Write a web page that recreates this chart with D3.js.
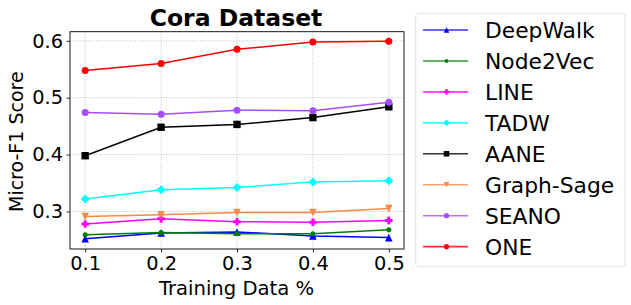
<!DOCTYPE html>
<html><head><meta charset="utf-8">
<script src="https://cdn.jsdelivr.net/npm/d3@7"></script>
<style>body{margin:0;background:#fff}svg{display:block}text{font-family:"DejaVu Sans",sans-serif}</style>
</head><body><svg id="c" width="631" height="305"></svg>
<script>
const xValues = [0.1, 0.2, 0.3, 0.4, 0.5];
const seriesNames = ["DeepWalk","Node2Vec","LINE","TADW","AANE","Graph-Sage","SEANO","ONE"];
const deepWalk  = [0.252, 0.262, 0.264, 0.257, 0.254];
const node2vec  = [0.259, 0.263, 0.261, 0.261, 0.268];
const line      = [0.278, 0.287, 0.282, 0.281, 0.284];
const tadw      = [0.322, 0.338, 0.342, 0.352, 0.354];
const aane      = [0.398, 0.448, 0.453, 0.465, 0.484];
const graphSage = [0.291, 0.294, 0.298, 0.298, 0.305];
const seano     = [0.474, 0.471, 0.478, 0.477, 0.492];
const one       = [0.548, 0.560, 0.585, 0.598, 0.599];
const yTicks = [0.3, 0.4, 0.5, 0.6];
const xTicks = [0.1, 0.2, 0.3, 0.4, 0.5];
const colors = ["#0000ff","#008000","#ff00ff","#00ffff","#000000","#f58a4b","#a64dff","#ff0000"];
const markers = ["triUp","point","plus","diamond","square","triDown","circle","circle"];
const values = [deepWalk,node2vec,line,tadw,aane,graphSage,seano,one];

const svg = d3.select("#c");
const L=70,R=404,T=31.7,B=249;
const x = d3.scaleLinear().domain([0.08,0.52]).range([L,R]);
const y = d3.scaleLinear().domain([0.234,0.616]).range([B,T]);

// grid
const g = svg.append("g");
g.selectAll(".gx").data(xTicks).join("line").attr("x1",d=>x(d)).attr("x2",d=>x(d)).attr("y1",T).attr("y2",B)
  .attr("stroke","#b0b0b0").attr("stroke-width",0.8).attr("stroke-dasharray","1,1.6");
g.selectAll(".gy").data(yTicks).join("line").attr("y1",d=>y(d)).attr("y2",d=>y(d)).attr("x1",L).attr("x2",R)
  .attr("stroke","#b0b0b0").attr("stroke-width",0.8).attr("stroke-dasharray","1,1.6");

function drawMarker(sel, type, color, cx, cy, scale){
  const s = scale||1;
  if(type==="circle"){ sel.append("circle").attr("cx",cx).attr("cy",cy).attr("r",3.5*s).attr("fill",color); }
  else if(type==="point"){ sel.append("circle").attr("cx",cx).attr("cy",cy).attr("r",2.5*s).attr("fill",color); }
  else if(type==="square"){ const h=3.7*s; sel.append("rect").attr("x",cx-h).attr("y",cy-h).attr("width",2*h).attr("height",2*h).attr("fill",color); }
  else if(type==="diamond"){ const h=4.5*s; sel.append("path").attr("d",`M${cx},${cy-h}L${cx+h},${cy}L${cx},${cy+h}L${cx-h},${cy}Z`).attr("fill",color); }
  else if(type==="triUp"){ const h=3.8*s; sel.append("path").attr("d",`M${cx},${cy-h}L${cx+h},${cy+h}L${cx-h},${cy+h}Z`).attr("fill",color); }
  else if(type==="triDown"){ const h=3.8*s; sel.append("path").attr("d",`M${cx},${cy+h}L${cx+h},${cy-h}L${cx-h},${cy-h}Z`).attr("fill",color); }
  else if(type==="plus"){ const a=3.8*s,b=1.5*s; sel.append("path").attr("d",`M${cx-b},${cy-a}H${cx+b}V${cy-b}H${cx+a}V${cy+b}H${cx+b}V${cy+a}H${cx-b}V${cy+b}H${cx-a}V${cy-b}H${cx-b}Z`).attr("fill",color); }
}

const lineGen = d3.line().x((d,i)=>x(xValues[i])).y(d=>y(d));
values.forEach((vals,k)=>{
  const sg = svg.append("g");
  sg.append("path").datum(vals).attr("d",lineGen).attr("fill","none").attr("stroke",colors[k]).attr("stroke-width",1.5);
  vals.forEach((v,i)=>drawMarker(sg, markers[k], colors[k], x(xValues[i]), y(v)));
});

// axes
const xAxis = d3.axisBottom(x).tickValues(xTicks).tickSize(3.5).tickPadding(3.5).tickFormat(d3.format(".1f"));
const yAxis = d3.axisLeft(y).tickValues(yTicks).tickSize(3.5).tickPadding(3.5).tickFormat(d3.format(".1f"));
const ax = svg.append("g").attr("transform",`translate(0,${B})`).call(xAxis);
const ay = svg.append("g").attr("transform",`translate(${L},0)`).call(yAxis);
[ax,ay].forEach(a=>{a.select(".domain").remove(); a.selectAll("text").attr("font-size",19.4).attr("fill","#000").attr("font-family","DejaVu Sans"); a.selectAll("line").attr("stroke","#000").attr("stroke-width",0.8);});
svg.append("rect").attr("x",L).attr("y",T).attr("width",R-L).attr("height",B-T).attr("fill","none").attr("stroke","#000").attr("stroke-width",0.9);

svg.append("text").attr("x",236).attr("y",26).attr("text-anchor","middle").attr("font-size",23.5).attr("font-weight","bold").text("Cora Dataset");
svg.append("text").attr("x",236.5).attr("y",295).attr("text-anchor","middle").attr("font-size",19.6).text("Training Data %");
svg.append("text").attr("transform",`translate(23.3,141.7) rotate(-90)`).attr("text-anchor","middle").attr("font-size",19).text("Micro-F1 Score");

// legend
const lg = svg.append("g");
lg.append("rect").attr("x",415.7).attr("y",13.3).attr("width",209.3).attr("height",253.4).attr("rx",3).attr("fill","#fff").attr("stroke","#d9d9d9").attr("stroke-width",0.8);
seriesNames.forEach((n,k)=>{
  const yy = 30 + k*30.95;
  lg.append("line").attr("x1",423).attr("x2",468).attr("y1",yy).attr("y2",yy).attr("stroke",colors[k]).attr("stroke-width",1.6).attr("opacity",0.8);
  drawMarker(lg, markers[k], colors[k], 446.5, yy, 0.75);
  lg.append("text").attr("x",485).attr("y",yy+8).attr("font-size",21.8).text(n);
});
</script></body></html>
